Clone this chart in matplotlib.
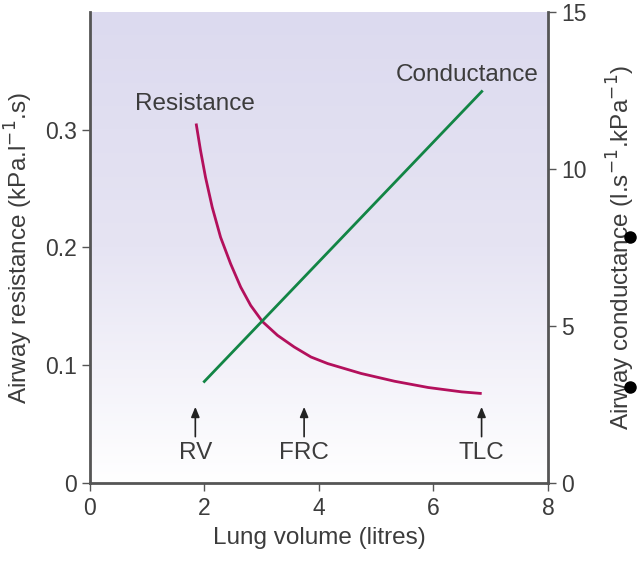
import numpy as np
import matplotlib
matplotlib.use("Agg")
import matplotlib.pyplot as plt
from matplotlib.colors import LinearSegmentedColormap
from matplotlib.lines import Line2D

plt.rcParams['font.family'] = ['Liberation Sans', 'DejaVu Sans']

# Airway resistance vs lung volume (kPa.l-1.s)
res_volume = [1.854, 1.930, 2.018, 2.135, 2.281, 2.456, 2.632, 2.807, 3.012,
              3.275, 3.567, 3.860, 4.153, 4.737, 5.321, 5.907, 6.491, 6.842]
res_values = [0.3053, 0.2826, 0.2596, 0.2342, 0.2087, 0.1862, 0.1664, 0.1508,
              0.1371, 0.1254, 0.1155, 0.1070, 0.1014, 0.0930, 0.0864, 0.0811,
              0.0774, 0.0760]

# Airway conductance vs lung volume (l.s-1.kPa-1)
cond_volume = [1.98, 6.86]
cond_values = [3.2, 12.5]

# Marked lung volumes
marker_names = ['RV', 'FRC', 'TLC']
marker_volume = [1.84, 3.74, 6.84]

x_ticks = [0, 2, 4, 6, 8]
left_ticks = [0, 0.1, 0.2, 0.3]
left_ticklabels = ['0', '0.1', '0.2', '0.3']
right_ticks = [0, 5, 10, 15]

text_col = '#3c3c3c'
spine_col = '#555555'
fs = 17.5

fig = plt.figure(figsize=(6.41, 5.63), dpi=100)
ax = fig.add_axes([0.1404, 0.1421, 0.7145, 0.8366])

# lavender-to-white background fill
grad = np.linspace(0, 1, 256).reshape(-1, 1)
cmap = LinearSegmentedColormap.from_list('bg', ['#ffffff', '#e6e4f3', '#dcdaef'])
ax.imshow(grad, extent=[0, 8, 0, 0.4], origin='lower', aspect='auto',
          cmap=cmap, zorder=0)

ax.set_xlim(0, 8)
ax.set_ylim(0, 0.4)
ax.plot(res_volume, res_values, color='#b3105c', lw=2, solid_capstyle='butt',
        solid_joinstyle='round', zorder=3)
ax.text(1.84, 0.322, 'Resistance', ha='center', va='center', fontsize=fs, color=text_col)

for name, v in zip(marker_names, marker_volume):
    ax.annotate('', xy=(v, 0.067), xytext=(v, 0.037),
                arrowprops=dict(arrowstyle='-|>,head_width=0.25,head_length=0.6',
                                color='#222222', lw=1.2))
    ax.text(v, 0.0255, name, ha='center', va='center', fontsize=fs, color=text_col)

ax.set_xticks(x_ticks)
ax.set_yticks(left_ticks)
ax.set_yticklabels(left_ticklabels)
ax.set_xlabel('Lung volume (litres)', fontsize=fs, color=text_col, labelpad=5)
ax.set_ylabel('Airway resistance (kPa.l$^{-1}$.s)', fontsize=fs, color=text_col, labelpad=7)

ax2 = ax.twinx()
ax2.set_ylim(0, 15)
ax2.plot(cond_volume, cond_values, color='#128545', lw=2, solid_capstyle='butt', zorder=3)
ax2.text(6.58, 13.0, 'Conductance', ha='center', va='center', fontsize=fs, color=text_col)
ax2.set_yticks(right_ticks)
ax2.set_ylabel('Airway conductance (l.s$^{-1}$.kPa$^{-1}$)', fontsize=fs,
               color=text_col, labelpad=13)

for a in (ax, ax2):
    a.spines['top'].set_visible(False)
    for s in a.spines.values():
        s.set_color(spine_col)
        s.set_linewidth(2)
    a.tick_params(colors=spine_col, labelcolor=text_col, labelsize=16.5,
                  length=6, width=1, direction='out')
ax2.spines['left'].set_visible(False)
ax2.spines['bottom'].set_visible(False)
ax.spines['right'].set_visible(False)
ax.tick_params(axis='x', pad=4)

# two small bullet dots beside the right axis label
for fy in (0.579, 0.3126):
    fig.add_artist(Line2D([0.983], [fy], marker='o', markersize=8,
                          color='black', transform=fig.transFigure))

fig.savefig('out.png', dpi=100)
